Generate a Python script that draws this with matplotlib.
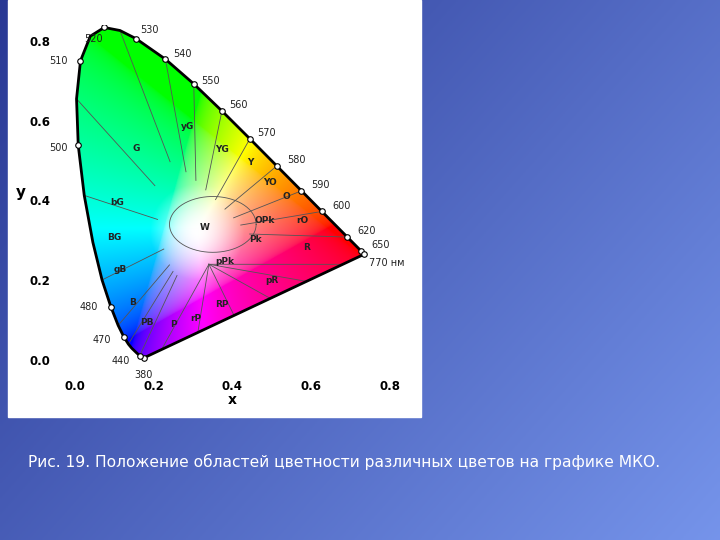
import numpy as np
import matplotlib.pyplot as plt
from matplotlib.path import Path
from matplotlib.patches import PathPatch

# spectral locus (nm, x, y)
wl = [380, 420, 440, 450, 460, 465, 470, 475, 480, 485, 490, 495, 500, 505, 510, 515,
      520, 525, 530, 540, 550, 560, 570, 580, 590, 600, 620, 650, 770]
lx = [0.1741, 0.1714, 0.1644, 0.1566, 0.1440, 0.1355, 0.1241, 0.1096, 0.0913, 0.0687,
      0.0454, 0.0235, 0.0082, 0.0039, 0.0139, 0.0389, 0.0743, 0.1142, 0.1547, 0.2296,
      0.3016, 0.3731, 0.4441, 0.5125, 0.5752, 0.6270, 0.6915, 0.7260, 0.7347]
ly = [0.0050, 0.0051, 0.0109, 0.0177, 0.0297, 0.0399, 0.0578, 0.0868, 0.1327, 0.2007,
      0.2950, 0.4127, 0.5384, 0.6548, 0.7502, 0.8120, 0.8338, 0.8262, 0.8059, 0.7543,
      0.6923, 0.6245, 0.5547, 0.4866, 0.4242, 0.3725, 0.3083, 0.2740, 0.2653]
marked = [380, 440, 470, 480, 500, 510, 520, 530, 540, 550, 560, 570, 580, 590, 600, 620, 650, 770]
wl_text = {380: "380", 440: "440", 470: "470", 480: "480", 500: "500", 510: "510", 520: "520",
           530: "530", 540: "540", 550: "550", 560: "560", 570: "570", 580: "580",
           590: "590", 600: "600", 620: "620", 650: "650", 770: "770 нм"}
wl_off = {380: (0, -12), 440: (-14, -4), 470: (-16, -2), 480: (-16, 0), 500: (-14, -2),
          510: (-16, 0), 520: (-8, -8), 530: (10, 6), 540: (12, 4), 550: (12, 2), 560: (12, 4),
          570: (12, 4), 580: (14, 4), 590: (14, 4), 600: (14, 4), 620: (14, 4), 650: (14, 4),
          770: (16, -6)}
border_wl = [440, 465, 475, 485, 495, 505, 525, 540, 550, 560, 570, 580, 590, 600, 620]

regions = ["G", "yG", "YG", "Y", "YO", "O", "bG", "W", "OPk", "rO", "Pk", "R", "BG", "pPk",
           "gB", "pR", "B", "RP", "rP", "PB", "P"]
reg_x = [0.155, 0.287, 0.373, 0.444, 0.495, 0.538, 0.107, 0.33, 0.483, 0.577, 0.457, 0.587,
         0.099, 0.381, 0.114, 0.5, 0.147, 0.373, 0.307, 0.183, 0.249]
reg_y = [0.53, 0.585, 0.527, 0.494, 0.444, 0.409, 0.394, 0.331, 0.351, 0.351, 0.301, 0.281,
         0.308, 0.246, 0.226, 0.2, 0.145, 0.138, 0.105, 0.093, 0.088]

caption = "Рис. 19. Положение областей цветности различных цветов на графике МКО."

fig = plt.figure(figsize=(7.2, 5.4), dpi=100)

# slide background
bg = fig.add_axes([0, 0, 1, 1])
g = np.linspace(0, 1, 256)
xx, yy = np.meshgrid(g, g)
t = 0.6 * xx + 0.4 * yy
grad = np.zeros((256, 256, 3))
grad[..., 0] = 0.16 + 0.30 * t
grad[..., 1] = 0.22 + 0.36 * t
grad[..., 2] = 0.58 + 0.34 * t
bg.imshow(grad, extent=[0, 1, 0, 1], aspect="auto")
bg.add_patch(plt.Rectangle((8 / 720, 1 - 417 / 540), 413 / 720, 417 / 540, color="white"))
bg.text(28 / 720, 1 - 462 / 540, caption, color="white", fontsize=11.2, va="center")
bg.axis("off")

# chart axes: x 0->75px, 0.8->390px ; y 0->360px, 0.8->41px
x0, x1 = 75 - 0.05 * 393.75, 390 + 0.05 * 393.75
ax = fig.add_axes([x0 / 720, 1 - 375 / 540, (x1 - x0) / 720, (375 - 25) / 540])
ax.set_xlim(-0.05, 0.85)
ax.set_ylim(-0.0376, 0.84)
for s in ax.spines.values():
    s.set_visible(False)
ax.set_xticks([0, 0.2, 0.4, 0.6, 0.8])
ax.set_yticks([0, 0.2, 0.4, 0.6, 0.8])
ax.tick_params(length=0, labelsize=8.5)
for lab in ax.get_xticklabels() + ax.get_yticklabels():
    lab.set_fontweight("bold")
ax.set_xlabel("x", fontweight="bold", fontsize=10, labelpad=0)
ax.set_ylabel("y", fontweight="bold", fontsize=11, rotation=0, labelpad=6)

# colour fill
N = 400
gx, gy = np.meshgrid(np.linspace(0, 0.75, N), np.linspace(0, 0.85, N))
gy_s = np.maximum(gy, 1e-3)
X = gx / gy_s
Z = (1 - gx - gy) / gy_s
Y = np.ones_like(X)
r = 3.2406 * X - 1.5372 * Y - 0.4986 * Z
gg = -0.9689 * X + 1.8758 * Y + 0.0415 * Z
b = 0.0557 * X - 0.2040 * Y + 1.0570 * Z
rgb = np.clip(np.stack([r, gg, b], -1), 0, None)
rgb = rgb / np.maximum(rgb.max(-1, keepdims=True), 1e-6)
rgb = np.clip(rgb, 0, 1) ** (1 / 2.2)
d = np.hypot(gx - 0.31, gy - 0.32)
w = np.clip(1 - d / 0.12, 0, 1)[..., None]
rgb = rgb * (1 - w) + w
im = ax.imshow(rgb, extent=[0, 0.75, 0, 0.85], origin="lower", aspect="auto", zorder=1)
verts = list(zip(lx, ly)) + [(lx[0], ly[0])]
patch = PathPatch(Path(verts), fc="none", ec="black", lw=2, zorder=3)
ax.add_patch(patch)
im.set_clip_path(patch)

# region boundaries (simplified)
cx, cy = 0.31, 0.32
inner_t = np.linspace(0, 2 * np.pi, 200)
ax.plot(cx + 0.11 * np.cos(inner_t) + 0.04, cy + 0.07 * np.sin(inner_t) + 0.02,
        color="#555555", lw=0.6, zorder=2)
for k, nm in enumerate(wl):
    if nm in border_wl:
        ax.plot([cx + 0.35 * (lx[k] - cx), lx[k]], [cy + 0.35 * (ly[k] - cy), ly[k]],
                color="#555555", lw=0.6, zorder=2)
for px_ in np.linspace(0.22, 0.68, 6):
    py_ = 0.005 + (px_ - 0.1741) * (0.2603 / 0.5606)
    ax.plot([cx + 0.03, px_], [cy - 0.08, py_], color="#555555", lw=0.6, zorder=2)

for k, nm in enumerate(wl):
    if nm in marked:
        ax.plot(lx[k], ly[k], "o", ms=4, mfc="white", mec="black", mew=0.8, zorder=4)
        ax.annotate(wl_text[nm], (lx[k], ly[k]), xytext=wl_off[nm], textcoords="offset points",
                    fontsize=7, ha="center", va="center", color="#222222", zorder=5)

for name, rx, ry in zip(regions, reg_x, reg_y):
    ax.text(rx, ry, name, fontsize=6.5, fontweight="bold", ha="center", va="center",
            color="#222222", zorder=5)

fig.savefig("out.png", dpi=100)
